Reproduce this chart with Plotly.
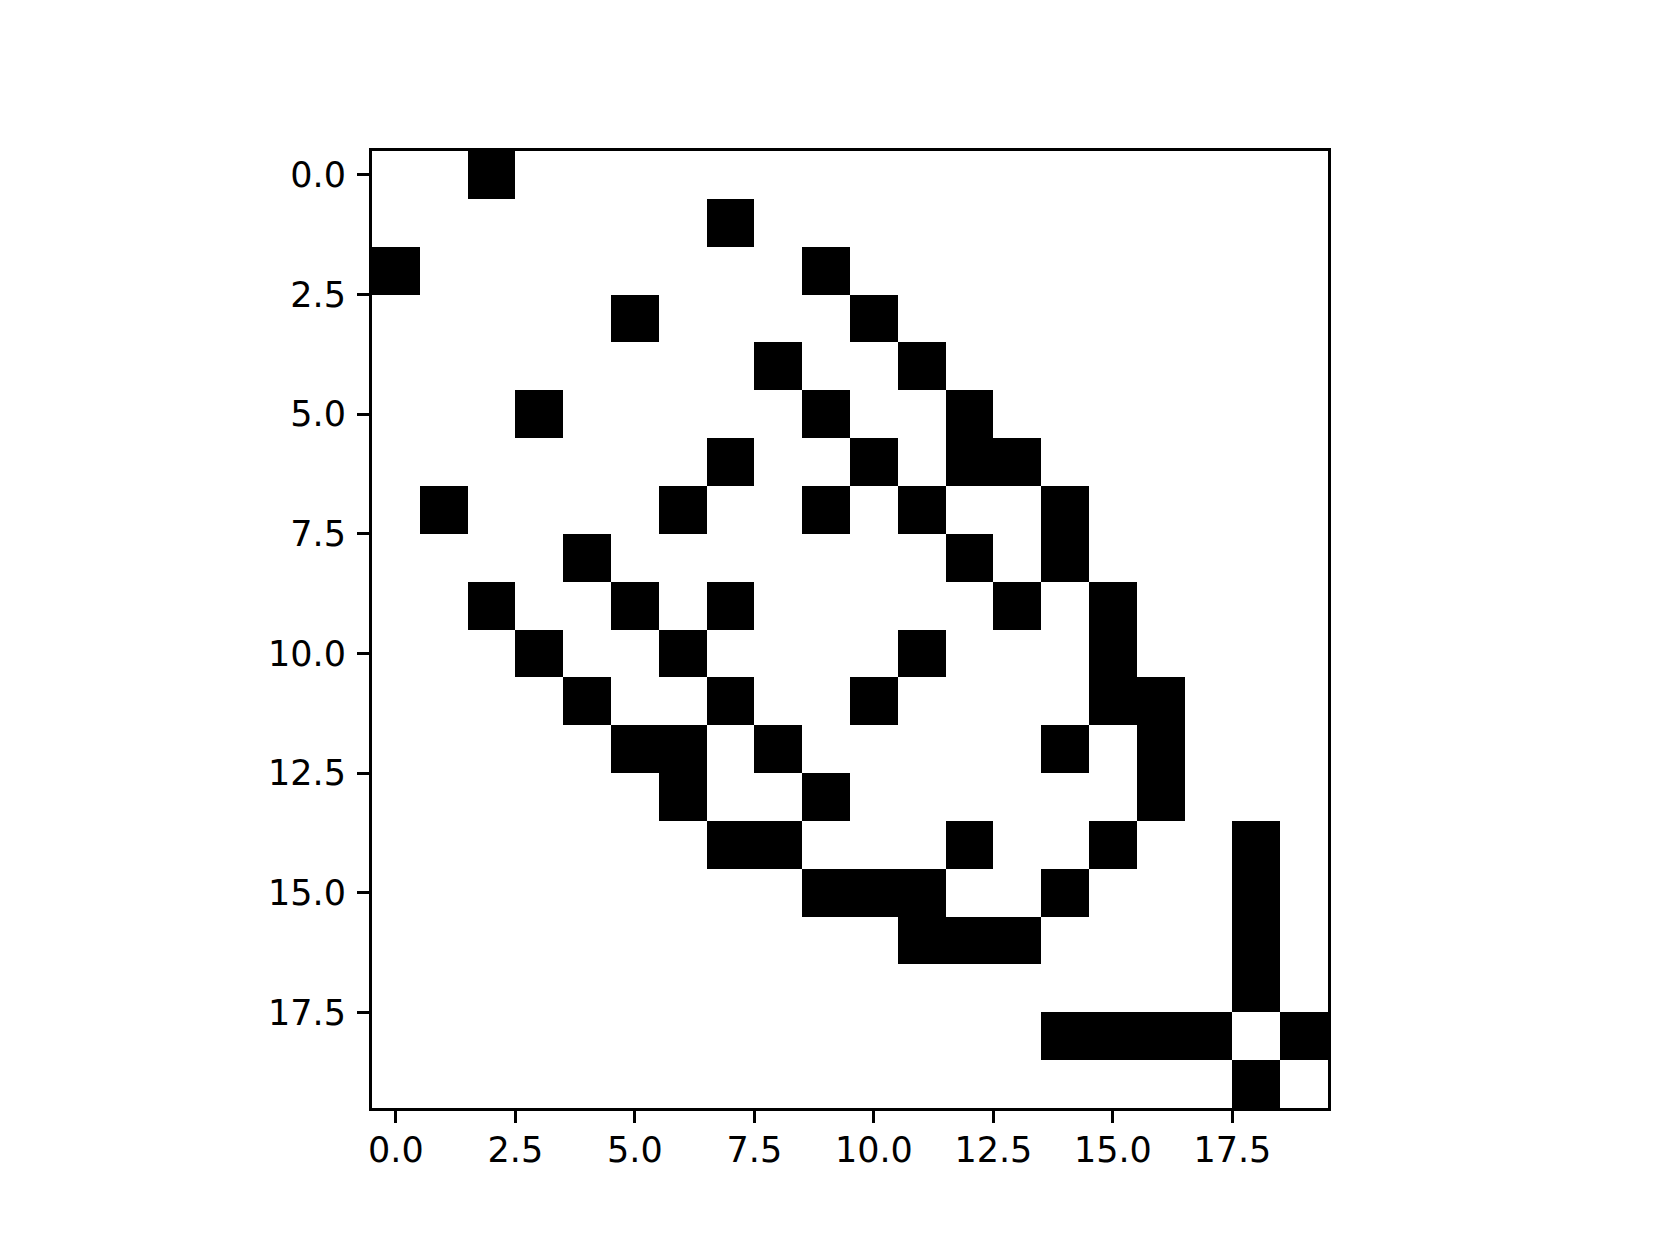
import plotly.graph_objects as go

# 20x20 adjacency matrix (1 = black cell)
n_nodes = 20
row_links = [
    [2],
    [7],
    [0, 9],
    [5, 10],
    [8, 11],
    [3, 9, 12],
    [7, 10, 12, 13],
    [1, 6, 9, 11, 14],
    [4, 12, 14],
    [2, 5, 7, 13, 15],
    [3, 6, 11, 15],
    [4, 7, 10, 15, 16],
    [5, 6, 8, 14, 16],
    [6, 9, 16],
    [7, 8, 12, 15, 18],
    [9, 10, 11, 14, 18],
    [11, 12, 13, 18],
    [18],
    [14, 15, 16, 17, 19],
    [18],
]
tick_vals = [0, 2.5, 5, 7.5, 10, 12.5, 15, 17.5]
tick_text = ["0.0", "2.5", "5.0", "7.5", "10.0", "12.5", "15.0", "17.5"]

matrix = [[1 if c in links else 0 for c in range(n_nodes)] for links in row_links]

fig = go.Figure(
    go.Heatmap(
        z=matrix,
        x=list(range(n_nodes)),
        y=list(range(n_nodes)),
        colorscale=[[0, "white"], [1, "black"]],
        zmin=0,
        zmax=1,
        showscale=False,
        hoverinfo="skip",
    )
)

axis_style = dict(
    tickvals=tick_vals,
    ticktext=tick_text,
    ticks="outside",
    ticklen=12,
    tickwidth=3,
    tickcolor="black",
    showline=True,
    linecolor="black",
    linewidth=3,
    mirror=True,
    showgrid=False,
    zeroline=False,
    tickfont=dict(family="DejaVu Sans", size=35, color="black"),
)

fig.update_xaxes(range=[-0.5, 19.5], ticklabelstandoff=-3, **axis_style)
fig.update_yaxes(range=[19.5, -0.5], ticklabelstandoff=4, **axis_style)

fig.update_layout(
    width=1660,
    height=1245,
    margin=dict(l=364, r=340, t=143, b=145),
    plot_bgcolor="white",
    paper_bgcolor="white",
)

fig.write_html("out.html")
